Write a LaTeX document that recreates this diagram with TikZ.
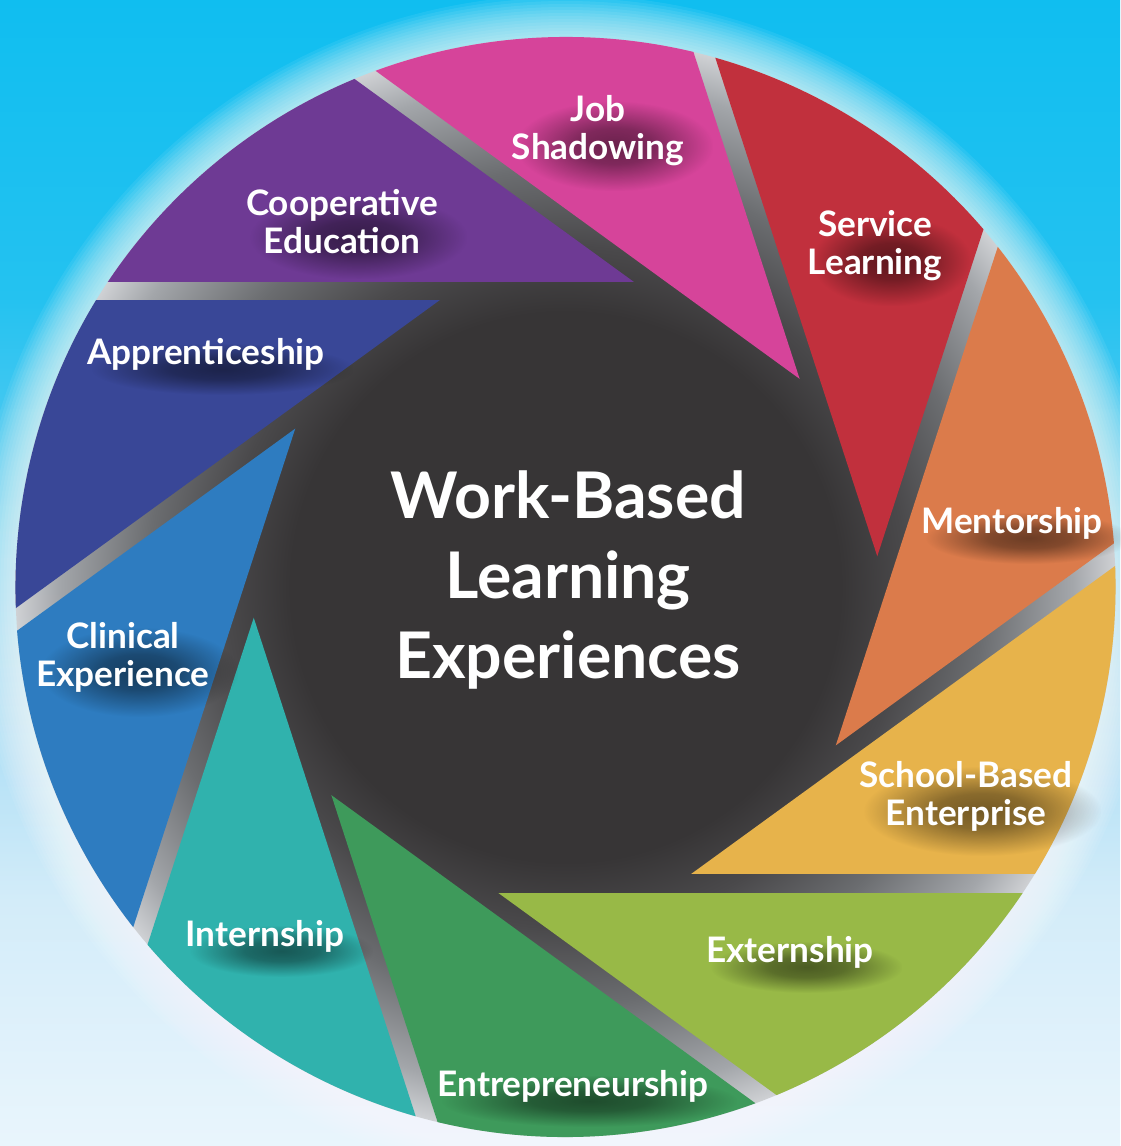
\documentclass[tikz,border=0pt]{standalone}
\usepackage{fontspec}
\setmainfont{Lato}
\usetikzlibrary{fadings}
\definecolor{cPink}{HTML}{D6449A}
\definecolor{cRed}{HTML}{C1303D}
\definecolor{cOrange}{HTML}{DB7B4B}
\definecolor{cYellow}{HTML}{E7B34B}
\definecolor{cLGreen}{HTML}{98B947}
\definecolor{cDGreen}{HTML}{3E9A5B}
\definecolor{cTeal}{HTML}{30B2AD}
\definecolor{cBlue}{HTML}{2E7CC0}
\definecolor{cIndigo}{HTML}{394797}
\definecolor{cPurple}{HTML}{6E3A94}
\definecolor{bgA}{HTML}{E9F5FC}
\definecolor{bgB}{HTML}{D3ECF9}
\definecolor{bgC}{HTML}{A8DDF5}
\definecolor{bgD}{HTML}{5ACCF2}
\definecolor{bgE}{HTML}{24C2F0}
\definecolor{bgF}{HTML}{10BEF0}
\definecolor{dkA}{HTML}{373536}
\definecolor{dkB}{HTML}{4A494B}
\definecolor{dkC}{HTML}{6B6D70}
\definecolor{dkD}{HTML}{A3A6AA}
\definecolor{dkE}{HTML}{CFD1D4}
\pgfdeclareverticalshading{bgshade}{100bp}{color(0bp)=(bgA); color(25bp)=(bgA); color(35.7bp)=(bgB); color(44.5bp)=(bgC); color(53.2bp)=(bgD); color(62bp)=(bgE); color(75bp)=(bgF); color(100bp)=(bgF)}
\pgfdeclareradialshading{diskshade}{\pgfpointorigin}{color(0bp)=(dkA); color(12.5bp)=(dkA); color(15.5bp)=(dkB); color(19bp)=(dkC); color(23bp)=(dkD); color(25bp)=(dkE); color(50bp)=(dkE)}
\pgfdeclareradialshading{blobshade}{\pgfpointorigin}{color(0bp)=(white); color(10bp)=(white!80!black); color(25bp)=(black); color(50bp)=(black)}
\pgfdeclarefading{softblob}{\pgfuseshading{blobshade}}
\pgfdeclarelayer{bglayer}
\pgfdeclarelayer{shdlayer}
\pgfsetlayers{bglayer,shdlayer,main}
\tikzset{
  lbl/.style={text=white, font=\bfseries\fontsize{10}{10.8}\selectfont, align=center, inner sep=0pt},
  ttl/.style={text=white, font=\bfseries\fontsize{18.3}{22.7}\selectfont, align=center, inner sep=0pt},
  shd/.style={fill=black, fill opacity=0.5, path fading=softblob}
}
\begin{document}
\begin{tikzpicture}
\useasboundingbox (0,-11.46) rectangle (11.20,0);
\coordinate (C) at (5.655,-5.87);
\begin{pgfonlayer}{bglayer}
\shade[shading=bgshade] (0,-11.46) rectangle (11.20,0);
\foreach \i in {1,...,14} \fill[white, opacity=0.07] (C) circle ({5.50+0.03*\i});
\shade[shading=diskshade] (C) circle (5.50);
\foreach \ang/\col in {0/cPurple, 36/cIndigo, 72/cBlue, 108/cTeal, 144/cDGreen, 180/cLGreen, 216/cYellow, 252/cOrange, 288/cRed, 324/cPink}{
  \begin{scope}[shift={(C)}, rotate=\ang]
    \clip (0,0) circle (5.50);
    \clip (-6,3.06) rectangle (6,6);
    \fill[\col, rotate=54] (-6,-6) rectangle (2.87,6);
  \end{scope}
}
\end{pgfonlayer}
\node[lbl] (job) at (5.98,-1.31) {Job\\Shadowing};
\node[lbl] (coop) at (3.42,-2.22) {Cooperative\\Education};
\node[lbl] (serv) at (8.75,-2.46) {Service\\Learning};
\node[lbl] (ment) at (10.12,-5.23) {Mentorship};
\node[lbl] (sbe) at (9.66,-7.96) {School-Based\\Enterprise};
\node[lbl] (ext) at (7.90,-9.52) {Externship};
\node[lbl] (entr) at (5.73,-10.86) {Entrepreneurship};
\node[lbl] (intern) at (2.65,-9.36) {Internship};
\node[lbl] (clin) at (1.23,-6.57) {Clinical\\Experience};
\node[lbl] (appr) at (2.06,-3.54) {Apprenticeship};
\node[ttl] (title) at (5.68,-5.80) {Work-Based\\Learning\\Experiences};
\begin{pgfonlayer}{shdlayer}
\foreach \n in {job,coop,serv,ment,sbe,ext,entr,intern,clin,appr}{
  \fill[shd] ([shift={(0.05,-0.24)}]\n.south west) rectangle ([shift={(0.28,-0.06)}]\n.north east);
}
\end{pgfonlayer}
\end{tikzpicture}
\end{document}
